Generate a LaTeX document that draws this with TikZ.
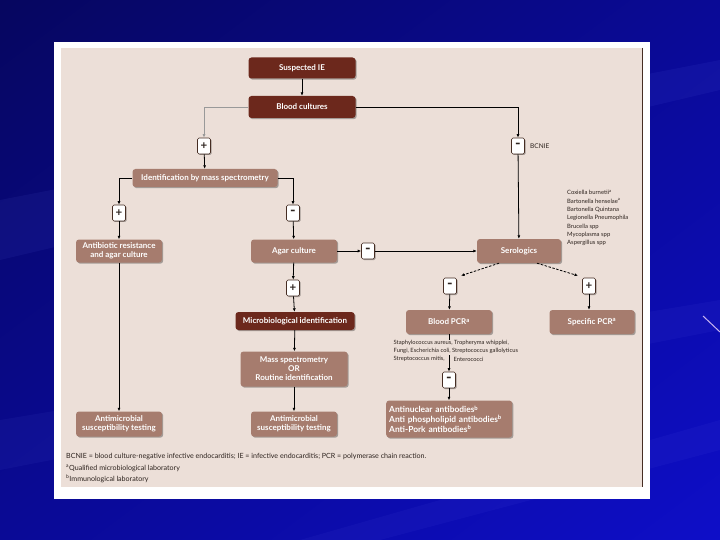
\documentclass[tikz,border=0pt]{standalone}
\usepackage{fontspec}
\setmainfont{Lato}
\usetikzlibrary{shadows,shadings,arrows.meta,calc}
\definecolor{navyd}{RGB}{6,6,95}
\definecolor{navym}{RGB}{10,10,150}
\definecolor{blueb}{RGB}{14,14,200}
\definecolor{beige}{RGB}{236,223,216}
\definecolor{dbrown}{RGB}{108,40,28}
\definecolor{mbrown}{RGB}{166,124,110}
\definecolor{edge}{RGB}{70,45,35}
\definecolor{txt}{RGB}{45,35,30}
\definecolor{streak}{RGB}{120,130,255}
\tikzset{
  box/.style={rounded corners=3pt, text=white, align=center, inner sep=1pt,
    font=\bfseries\fontsize{8}{9}\selectfont,
    drop shadow={shadow xshift=1.2pt, shadow yshift=-1.2pt, opacity=0.3, fill=black}},
  dbox/.style={box, fill=dbrown},
  mbox/.style={box, fill=mbrown},
  sign/.style={draw=edge, fill=white, line width=0.6pt, minimum width=13pt, minimum height=16pt,
    inner sep=0pt, rounded corners=1.5pt, text=txt, font=\bfseries\fontsize{11.5}{11.5}\selectfont,
    drop shadow={shadow xshift=1pt, shadow yshift=-1pt, opacity=0.3, fill=black}},
  minus/.style={sign, font=\bfseries\fontsize{15}{15}\selectfont},
  small/.style={text=txt, inner sep=0pt, font=\fontsize{5.9}{8.3}\selectfont, align=left},
  arr/.style={draw=black, line width=0.8pt, -{Latex[length=3.5pt,width=3pt]}},
  garr/.style={draw=gray!80, line width=0.8pt, -{Latex[length=3.5pt,width=3pt]}},
  darr/.style={arr, dashed, dash pattern=on 2.5pt off 1.5pt}
}
\begin{document}
\begin{tikzpicture}[x=1pt,y=-1pt]
\useasboundingbox (0,0) rectangle (720,540);
% slide background
\shade[upper left=navyd, upper right=navym, lower left=navym, lower right=blueb] (0,0) rectangle (720,540);
\fill[streak, opacity=0.07] (0,200) -- (720,60) -- (720,90) -- (0,260) -- cycle;
\fill[streak, opacity=0.06] (0,420) -- (720,300) -- (720,330) -- (0,470) -- cycle;
\fill[streak, opacity=0.06] (300,540) -- (720,420) -- (720,450) -- (380,540) -- cycle;
\draw[color={rgb,255:red,200;green,180;blue,240}, line width=1pt] (703,316) -- (720,332);
% frame
\fill[white] (54,42) rectangle (650,499);
\fill[beige] (61,48) rectangle (642,487);
\draw[edge, line width=0.8pt] (642,48) -- (642,487);

% nodes
\node[dbox, minimum width=107pt, minimum height=21pt] (sie) at (302,68) {Suspected IE};
\node[dbox, minimum width=107pt, minimum height=22pt] (bc) at (302,107) {Blood cultures};
\node[sign] (p1) at (204,146) {+};
\node[minus] (m1) at (518,146) {-};
\node[small, anchor=west, font=\fontsize{6.5}{7}\selectfont] (bcnie) at (530,146) {BCNIE};
\node[mbox, minimum width=145pt, minimum height=18pt] (ims) at (205,178) {Identification by mass spectrometry};
\node[sign] (p2) at (119,213) {+};
\node[minus] (m2) at (293,213) {-};
\node[mbox, minimum width=86pt, minimum height=23pt] (abr) at (119,251) {Antibiotic resistance\\and agar culture};
\node[mbox, minimum width=86pt, minimum height=23pt] (agar) at (294,251) {Agar culture};
\node[minus] (m3) at (368,251) {-};
\node[mbox, minimum width=84pt, minimum height=24pt] (sero) at (519,251) {Serologics};
\node[small, anchor=north west] (list) at (567,190) {Coxiella burnetii\textsuperscript{a}\\Bartonella henselae\textsuperscript{a}\\Bartonella Quintana\\Legionella Pneumophila\\Brucella spp\\Mycoplasma spp\\Aspergillus spp};
\node[sign] (p3) at (293,288) {+};
\node[dbox, minimum width=119pt, minimum height=18pt] (mid) at (295,321) {Microbiological identification};
\node[mbox, minimum width=107pt, minimum height=35pt] (ms) at (294,369) {Mass spectrometry\\OR\\Routine identification};
\node[mbox, minimum width=86pt, minimum height=25pt] (ast1) at (119,424) {Antimicrobial\\susceptibility testing};
\node[mbox, minimum width=86pt, minimum height=25pt] (ast2) at (294,424) {Antimicrobial\\susceptibility testing};
\node[minus] (m4) at (450,286) {-};
\node[sign] (p4) at (589,286) {+};
\node[mbox, minimum width=86pt, minimum height=24pt] (bpcr) at (449,322) {Blood PCR\textsuperscript{a}};
\node[mbox, minimum width=85pt, minimum height=24pt] (spcr) at (592,322) {Specific PCR\textsuperscript{a}};
\node[minus] (m5) at (449,380) {-};
\node[mbox, minimum height=37pt, align=left, anchor=west, text width=120pt, inner xsep=3pt,
  font=\bfseries\fontsize{8.4}{9.6}\selectfont] (anti) at (386,419)
  {Antinuclear antibodies\textsuperscript{b}\\Anti phospholipid antibodies\textsuperscript{b}\\Anti-Pork antibodies\textsuperscript{b}};

% connectors
\draw[arr] (sie) -- (bc);
\draw[garr] (bc.west) -| (p1);
\draw[arr] (bc.east) -| (m1);
\draw[arr] (p1) -- (ims);
\draw[arr] (m1) -- (sero);
\draw[arr] (ims.west) -| (p2);
\draw[arr] (ims.east) -| (m2);
\draw[arr] (p2) -- (abr);
\draw[arr] (m2) -- (agar);
\draw[arr] (agar) -- (m3);
\draw[arr] (m3) -- (sero);
\draw[arr] (agar) -- (p3);
\draw[arr] (p3) -- (mid);
\draw[arr] (mid) -- (ms);
\draw[arr] (ms) -- (ast2);
\draw[arr] (abr) -- (ast1);
\draw[darr] ($(sero.south)+(-20pt,0pt)$) -- ($(m4.north)+(11pt,2pt)$);
\draw[darr] ($(sero.south)+(18pt,0pt)$) -- ($(p4.north)+(-11pt,2pt)$);
\draw[arr] (m4) -- (bpcr);
\draw[arr] (p4) -- (p4 |- spcr.north);
\draw[arr] (bpcr) -- (m5);
\draw[arr] (m5) -- (m5 |- anti.north);

% organism text (over the connector)
\node[small, anchor=north west, fill=beige, inner sep=0.5pt, font=\fontsize{5.8}{8}\selectfont] (org) at (393,340) {Staphylococcus aureus, Tropheryma whipplei,\\Fungi, Escherichia coli, Streptococcus gallolyticus};
\node[small, anchor=west, fill=beige, inner sep=0.5pt, font=\fontsize{5.8}{8}\selectfont] (org3a) at (393,359) {Streptococcus mitis,};
\node[small, anchor=west, fill=beige, inner sep=0.5pt, font=\fontsize{5.8}{8}\selectfont] (org3b) at (453,359) {Enterococci};

% footnotes
\node[small, anchor=west, font=\fontsize{7.1}{8}\selectfont] (fn1) at (66,457) {BCNIE = blood culture-negative infective endocarditis; IE = infective endocarditis; PCR = polymerase chain reaction.};
\node[small, anchor=west, font=\fontsize{7.1}{8}\selectfont] (fn2) at (66,468) {\textsuperscript{a}Qualified microbiological laboratory};
\node[small, anchor=west, font=\fontsize{7.1}{8}\selectfont] (fn3) at (66,479) {\textsuperscript{b}Immunological laboratory};
\end{tikzpicture}
\end{document}
